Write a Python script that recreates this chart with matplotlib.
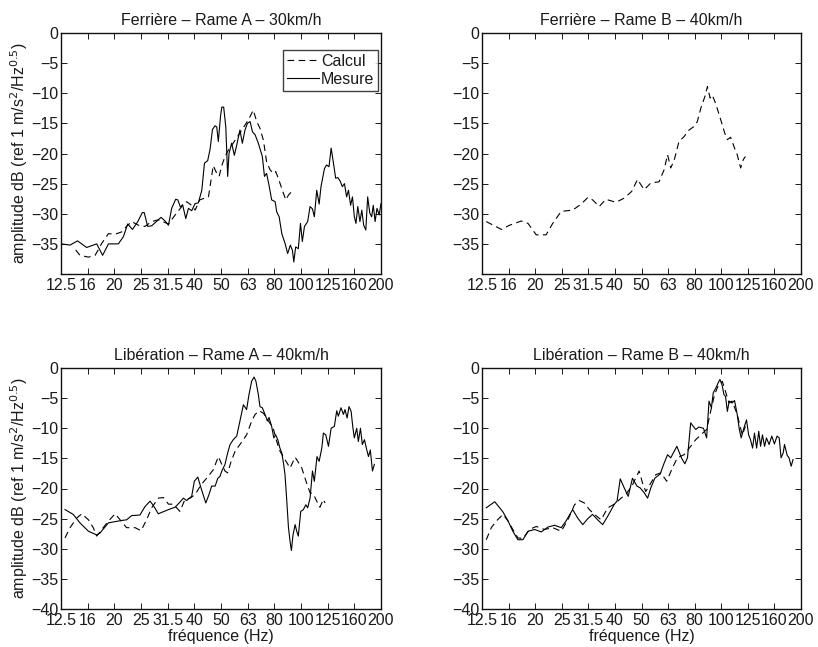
import matplotlib.pyplot as plt

plt.rcParams['font.family'] = ['Liberation Sans', 'DejaVu Sans']

# bandes de tiers d'octave (position 0 = 12.5 Hz, 12 = 200 Hz)
freq_labels = ['12.5', '16', '20', '25', '31.5', '40', '50', '63', '80',
               '100', '125', '160', '200']

# ===== Ferrière - Rame A - 30km/h =====
fa_calc_x = [0.55, 0.71, 1.03, 1.28, 1.53, 1.78, 2.03, 2.28, 2.46, 2.65, 2.9, 3.15,
             3.4, 3.65, 4.03, 4.28, 4.53, 4.71, 4.9, 5.03, 5.2, 5.53, 5.71, 5.84,
             5.93, 6.03, 6.15, 6.28, 6.53, 6.78, 7.03, 7.21, 7.34, 7.46, 7.59, 7.71,
             7.84, 7.96, 8.05, 8.15, 8.3, 8.43, 8.53, 8.65]
fa_calc_y = [-36, -36.9, -37.2, -36.9, -34.9, -33.3, -33.4, -33, -32.1, -31.3, -31.9, -32.1,
             -31.3, -31, -31.7, -30.2, -28.8, -28, -28.6, -29.4, -27.7, -27.2, -22, -23.3,
             -23.8, -22, -20.5, -19.4, -17.8, -16.1, -14.4, -12.8, -14.7, -15.8, -17.8, -21.4,
             -22.7, -23.3, -23, -24.1, -26.1, -27.7, -26.9, -26.3]
fa_mes_x = [0, 0.34, 0.62, 0.96, 1.34, 1.56, 1.78, 2.15, 2.34, 2.5, 2.68, 2.88, 3.05, 3.12,
            3.25, 3.4, 3.75, 3.9, 4.03, 4.15, 4.3, 4.38, 4.48, 4.56, 4.68, 4.78, 4.9, 5.03,
            5.15, 5.28, 5.38, 5.5, 5.59, 5.68, 5.78, 5.84, 5.9, 5.98, 6.03, 6.1, 6.18, 6.25,
            6.3, 6.4, 6.5, 6.59, 6.71, 6.8, 6.9, 6.99, 7.09, 7.18, 7.28, 7.4, 7.55, 7.63,
            7.71, 7.81, 7.9, 8.03, 8.09, 8.18, 8.28, 8.4, 8.5, 8.6, 8.68, 8.73, 8.8, 8.9,
            8.98, 9.05, 9.13, 9.25, 9.34, 9.43, 9.5, 9.59, 9.68, 9.75, 9.88, 9.96, 10.05,
            10.13, 10.21, 10.3, 10.38, 10.46, 10.55, 10.63, 10.71, 10.78, 10.86, 10.93, 11,
            11.06, 11.13, 11.21, 11.28, 11.35, 11.43, 11.5, 11.58, 11.65, 11.71, 11.78,
            11.85, 11.93, 12]
fa_mes_y = [-35, -35.2, -34.5, -35.6, -35, -36.9, -35, -35, -33.8, -31.7, -32.6, -31.3, -29.8,
            -29.8, -32.1, -32, -30.6, -31.2, -31.9, -29.1, -27.6, -27.7, -28.9, -28.5, -30.8,
            -29.1, -29.5, -28.3, -28.2, -26.1, -21.6, -21.2, -19.3, -16, -15.4, -15.6, -18,
            -13.9, -12.3, -12.3, -15.6, -23.8, -20, -18.3, -20.3, -18.6, -16.1, -18.3, -16.1,
            -15, -14.7, -16.4, -16.9, -18.3, -20.5, -23.8, -23.3, -25.5, -27.7, -28, -29.7,
            -30.5, -33.3, -34.9, -36.6, -35.2, -36.1, -38, -35.5, -35.8, -31.6, -34.6, -32.1,
            -31.3, -28.8, -29.2, -30.5, -26.1, -28.4, -25.5, -22.5, -21.9, -22.2, -19.1,
            -21.4, -24.1, -24, -24.5, -25.5, -25, -27.2, -26.1, -28.6, -27.2, -30.5, -31.6,
            -28.8, -31.3, -29.4, -31.9, -32.7, -27.2, -29.9, -30.5, -28.6, -31.3, -29.1,
            -30.2, -28.3]

# ===== Ferrière - Rame B - 40km/h =====
fb_calc_x = [0.16, 0.73, 1.04, 1.48, 1.73, 2.04, 2.41, 2.66, 2.98, 3.41, 3.73, 3.98, 4.16,
             4.41, 4.66, 5.04, 5.35, 5.63, 5.85, 5.98, 6.1, 6.35, 6.66, 6.85, 6.98, 7.1,
             7.23, 7.41, 7.6, 7.79, 7.98, 8.1, 8.23, 8.38, 8.48, 8.58, 8.66, 8.79, 8.98,
             9.13, 9.23, 9.35, 9.5, 9.6, 9.73, 9.83, 9.91]
fb_calc_y = [-31.3, -32.6, -31.9, -31.2, -31.6, -33.5, -33.5, -31.6, -29.6, -29.4, -28.4,
             -27.3, -27.7, -28.8, -27.6, -28.1, -27.4, -26.3, -24.3, -25.2, -26, -24.9, -24.7,
             -22.7, -20.2, -22.4, -21.1, -18, -17.2, -16.1, -15.5, -14.7, -12.5, -10.6, -8.9,
             -10.8, -10.3, -11.7, -14.4, -16.6, -17.7, -17.3, -19.1, -20.2, -22.4, -21, -20.5]

# ===== Libération - Rame A - 40km/h =====
la_calc_x = [0.15, 0.34, 0.59, 0.78, 1.03, 1.21, 1.34, 1.53, 1.78, 2.03, 2.46, 2.78, 3,
             3.21, 3.4, 3.65, 3.84, 4.03, 4.21, 4.46, 4.65, 4.84, 5.03, 5.25, 5.46, 5.71,
             5.9, 6.03, 6.15, 6.25, 6.38, 6.53, 6.71, 6.96, 7.15, 7.28, 7.43, 7.59, 7.78,
             7.96, 8.09, 8.21, 8.4, 8.59, 8.78, 9.03, 9.21, 9.34, 9.46, 9.59, 9.71, 9.84, 9.9]
la_calc_y = [-28.2, -26.5, -24.9, -24.2, -25.2, -26.5, -27.9, -26.8, -25.4, -24.2, -26.5,
             -26.5, -27, -25.2, -23.2, -21.6, -21.5, -22.6, -22.6, -23.8, -21.8, -21.6, -21,
             -19.4, -18.3, -16.9, -14.7, -16, -17.1, -17.4, -15.5, -13.8, -12.7, -11.1, -8.8,
             -7.7, -7.1, -7.5, -8.8, -10, -12.2, -13.8, -15.2, -16.6, -14.8, -16.6, -19.1,
             -20.7, -20.9, -22.1, -23.1, -21.8, -22.4]
la_mes_x = [0.15, 0.46, 0.71, 1.03, 1.34, 1.46, 1.78, 2.28, 2.46, 2.65, 2.96, 3.15, 3.34,
            3.46, 3.65, 4.03, 4.28, 4.43, 4.59, 4.71, 4.9, 5, 5.13, 5.25, 5.43, 5.55, 5.65,
            5.78, 5.88, 5.96, 6.03, 6.15, 6.25, 6.34, 6.46, 6.59, 6.71, 6.84, 6.96, 7.05,
            7.15, 7.24, 7.31, 7.4, 7.46, 7.55, 7.65, 7.74, 7.8, 7.9, 7.98, 8.05, 8.13, 8.21,
            8.28, 8.35, 8.4, 8.46, 8.53, 8.59, 8.64, 8.7, 8.78, 8.84, 8.9, 8.99, 9.09, 9.18,
            9.25, 9.34, 9.43, 9.5, 9.6, 9.68, 9.78, 9.84, 9.93, 10.03, 10.13, 10.25, 10.34,
            10.4, 10.5, 10.59, 10.65, 10.73, 10.8, 10.88, 10.94, 11, 11.09, 11.15, 11.23,
            11.3, 11.38, 11.45, 11.53, 11.6, 11.68, 11.75]
la_mes_y = [-23.5, -24.3, -25.7, -27.1, -27.7, -27.4, -25.7, -25.3, -25.2, -24.5, -24.4, -23,
            -22.1, -22.8, -24.2, -23.5, -23.1, -22.4, -21.6, -22, -21.3, -18.8, -18.1, -19.9,
            -22.4, -21, -19.6, -19.6, -18.3, -18, -17.1, -16, -14.1, -12.7, -11.9, -11.3,
            -8.8, -6.1, -6.9, -4.4, -2.2, -1.5, -2.2, -4.4, -6.4, -6.6, -7.7, -8.8, -8.2,
            -9.7, -11.6, -11.1, -11.9, -13.3, -14.1, -16, -17.7, -21.6, -26.5, -28.8, -30.3,
            -27.7, -26, -27.1, -27.9, -23.8, -23.5, -22.7, -23.2, -21.6, -17.1, -18.8, -14.7,
            -15.5, -13.3, -10.8, -11.1, -13, -10, -9.7, -7.1, -8, -6.6, -7.7, -6.9, -8.3,
            -6.4, -7.2, -9.7, -11.6, -10, -12.2, -10, -12.7, -11.9, -13.3, -14.7, -13.6,
            -17.1, -16]

# ===== Libération - Rame B - 40km/h =====
lb_calc_x = [0.16, 0.35, 0.54, 0.79, 0.98, 1.16, 1.35, 1.54, 1.79, 2.04, 2.35, 2.66, 2.98,
             3.23, 3.48, 3.66, 3.85, 4.04, 4.23, 4.48, 4.73, 4.98, 5.23, 5.41, 5.66, 5.91,
             6.04, 6.16, 6.35, 6.54, 6.73, 6.95, 7.16, 7.35, 7.6, 7.85, 8.04, 8.23, 8.45,
             8.6, 8.75, 8.88, 9.04, 9.16, 9.29, 9.41, 9.6, 9.79, 9.91]
lb_calc_y = [-28.5, -26.5, -25.4, -24.3, -25.4, -26.8, -28.2, -28.3, -26.8, -26.3, -26.8,
             -26.5, -27.1, -25.2, -22.7, -22, -22.4, -23.5, -24.3, -25.2, -23.2, -22.6, -21.6,
             -21, -19.4, -17.1, -19.1, -20.5, -19.1, -17.7, -17.4, -18.8, -16.6, -14.9, -14.4,
             -13, -11.9, -11.1, -10.2, -7.2, -4.4, -3, -2.2, -3.9, -5.8, -5.5, -7.7, -11.1,
             -9.7]
lb_mes_x = [0.16, 0.48, 0.79, 0.98, 1.16, 1.35, 1.54, 1.73, 1.98, 2.23, 2.48, 2.73, 2.98,
            3.16, 3.41, 3.6, 3.79, 3.98, 4.16, 4.35, 4.54, 4.73, 4.98, 5.08, 5.2, 5.35, 5.5,
            5.66, 5.83, 5.95, 6.1, 6.23, 6.35, 6.5, 6.7, 6.85, 6.98, 7.1, 7.33, 7.5, 7.63,
            7.73, 7.85, 7.95, 8.04, 8.16, 8.33, 8.45, 8.54, 8.63, 8.7, 8.8, 8.88, 8.95, 9.03,
            9.1, 9.16, 9.23, 9.3, 9.41, 9.5, 9.6, 9.68, 9.75, 9.85, 9.95, 10.03, 10.1, 10.18,
            10.25, 10.33, 10.41, 10.48, 10.55, 10.63, 10.7, 10.8, 10.9, 11, 11.1, 11.18,
            11.25, 11.33, 11.38, 11.48, 11.55, 11.63, 11.7]
lb_mes_y = [-23.2, -22.2, -23.9, -25.4, -27.1, -28.5, -28.5, -27.1, -26.8, -27.2, -26.4,
            -26.1, -26.5, -25.4, -23.5, -24.9, -26, -25, -24.3, -25.2, -26, -24.6, -22.6,
            -22.1, -18.4, -19.9, -21.3, -18.3, -19.6, -19.9, -20.7, -21.6, -19.9, -18.3, -17.6,
            -15.8, -14.4, -14.9, -13, -14.9, -15.9, -14.9, -9.1, -9.7, -10.2, -9.8, -10, -11.6,
            -5.5, -6.6, -4.1, -3.3, -2.5, -1.9, -2.8, -4.4, -4.7, -7.2, -5.5, -5.8, -5.4, -7.7,
            -10.2, -11.6, -10, -8.6, -11.1, -11.9, -13.3, -10.8, -13.3, -10.5, -13, -11.1, -13,
            -11.6, -12.7, -11.3, -12.6, -11.3, -11.6, -14.9, -14.1, -12.7, -14.5, -14.9, -16.3,
            -15.2]

# ===== PLOTAGE =====
txt = '#1a1a1a'
fs = 11.5
dash = (0, (6, 4))
ylab = 'amplitude dB (ref 1 m/s$^2$/Hz$^{0.5}$)'

fig = plt.figure(figsize=(8.18, 6.47), dpi=100)
ax_fa = fig.add_axes([61 / 818, 1 - 274 / 647, 320 / 818, 241 / 647])
ax_fb = fig.add_axes([482 / 818, 1 - 274 / 647, 319 / 818, 241 / 647])
ax_la = fig.add_axes([61 / 818, 1 - 609 / 647, 320 / 818, 241 / 647])
ax_lb = fig.add_axes([482 / 818, 1 - 609 / 647, 319 / 818, 241 / 647])

l1, = ax_fa.plot(fa_calc_x, fa_calc_y, color='k', lw=0.8, linestyle=dash, label='Calcul')
l2, = ax_fa.plot(fa_mes_x, fa_mes_y, color='k', lw=0.8, label='Mesure')
ax_fb.plot(fb_calc_x, fb_calc_y, color='k', lw=0.8, linestyle=dash)
ax_la.plot(la_calc_x, la_calc_y, color='k', lw=0.8, linestyle=dash)
ax_la.plot(la_mes_x, la_mes_y, color='k', lw=0.8)
ax_lb.plot(lb_calc_x, lb_calc_y, color='k', lw=0.8, linestyle=dash)
ax_lb.plot(lb_mes_x, lb_mes_y, color='k', lw=0.8)

titres = {ax_fa: 'Ferrière – Rame A – 30km/h',
          ax_fb: 'Ferrière – Rame B – 40km/h',
          ax_la: 'Libération – Rame A – 40km/h',
          ax_lb: 'Libération – Rame B – 40km/h'}

for ax in [ax_fa, ax_fb, ax_la, ax_lb]:
    ax.set_xlim(0, 12)
    ax.set_ylim(-40, 0)
    ax.set_xticks(range(13))
    ax.set_xticklabels(freq_labels)
    if ax in (ax_la, ax_lb):
        ax.set_yticks(range(-40, 1, 5))
    else:
        ax.set_yticks(range(-35, 1, 5))
    ax.tick_params(direction='in', top=True, right=True, length=4, width=0.7,
                   labelsize=fs, pad=2, colors=txt)
    ax.tick_params(axis='x', pad=3)
    for s in ax.spines.values():
        s.set_linewidth(1.0)
        s.set_color('#111111')
    ax.set_title(titres[ax], fontsize=fs, color=txt, pad=6)

ax_fa.set_ylabel(ylab, fontsize=fs, color=txt, labelpad=1)
ax_la.set_ylabel(ylab, fontsize=fs, color=txt, labelpad=1)
ax_la.set_xlabel('fréquence (Hz)', fontsize=fs, color=txt, labelpad=0.5)
ax_lb.set_xlabel('fréquence (Hz)', fontsize=fs, color=txt, labelpad=0.5)

leg = ax_fa.legend(handles=[l1, l2], loc='upper right', bbox_to_anchor=(0.992, 0.93),
                   fontsize=fs, frameon=True, fancybox=False, handlelength=2.0,
                   handletextpad=0.15, borderpad=0.25, labelspacing=0.2, borderaxespad=0)
leg.get_frame().set_edgecolor('#111111')
leg.get_frame().set_linewidth(1.0)
for t in leg.get_texts():
    t.set_color(txt)

fig.savefig('out.png', dpi=100)
